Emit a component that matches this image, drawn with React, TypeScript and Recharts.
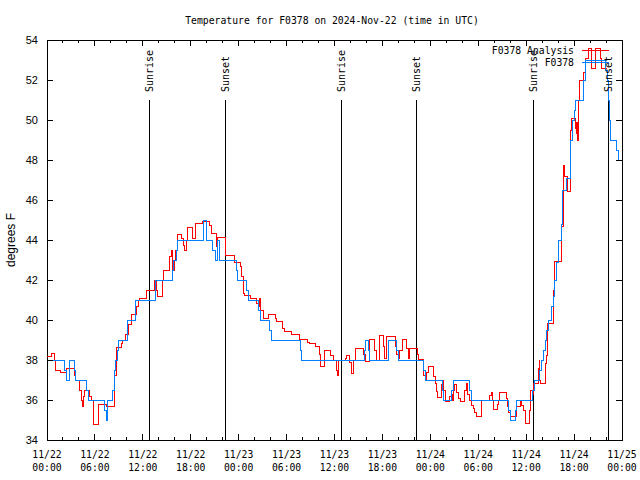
import React from 'react'
import { LineChart, Line, XAxis, YAxis, ReferenceLine, ReferenceDot, ReferenceArea } from 'recharts'

// hours since 2024-11-22 00:00 UTC
const analysisHours = [
  0, 0.58, 0.92, 1.08, 1.71, 2.46, 3.42, 3.63, 4.13, 4.34, 4.42, 4.55, 4.67, 5.38, 5.59, 5.8, 5.88, 6.5, 7.47,
  8.39, 8.51, 8.64, 8.72, 9.27, 9.47, 9.77, 10.2, 10.6, 11.23, 11.44, 11.56, 12.48, 13.44, 13.65, 13.86, 14.48,
  14.57, 15.4, 15.53, 15.73, 16.0, 16.13, 16.38, 16.88, 17.09, 17.22, 17.43, 17.64, 18.18, 18.6, 19.44, 20.35,
  20.56, 21.19, 21.4, 22.36, 23.54, 24.17, 24.38, 24.58, 24.79, 25.5, 26.26, 26.46, 26.59, 26.76, 27.09, 27.71,
  28.55, 28.76, 29.51, 29.72, 30.64, 31.6, 32.6, 32.85, 33.56, 34.1, 34.27, 34.69, 34.81, 35.52, 35.85, 36.27,
  36.35, 36.56, 37.32, 37.53, 37.94, 38.15, 38.44, 38.57, 39.61, 39.82, 40.36, 41.07, 41.28, 41.61, 42.11, 42.32,
  42.53, 43.58, 43.79, 44.0, 44.2, 44.54, 45.04, 45.24, 45.45, 46.37, 46.58, 47.12, 47.42, 47.54, 47.75, 48.38,
  48.59, 48.71, 48.88, 49.42, 49.54, 49.7, 49.84, 50.38, 50.6, 50.75, 50.9, 51.0, 51.3, 51.5, 51.72, 52.34, 52.47,
  52.7, 52.88, 53.1, 53.38, 53.55, 53.72, 54.35, 54.43, 55.47, 55.6, 55.75, 55.89, 55.97, 56.39, 56.5, 56.64,
  57.48, 57.6, 57.77, 57.98, 58.82, 59.23, 59.45, 59.65, 59.86, 60.4, 60.57, 60.82, 60.98, 61.52, 61.65, 61.73,
  61.82, 62.44, 62.57, 62.65, 63.4, 63.53, 64.45, 64.66, 64.86, 65.15, 65.49, 65.58, 65.7, 66.12, 66.24, 66.33,
  66.45, 66.53, 66.66, 67.16, 67.49, 67.78, 68.2, 68.62, 69.25, 69.46, 70.08,
]
const analysisTemps = [
  38.17, 38.33, 38.0, 37.5, 37.4, 37.58, 37.25, 36.97, 36.5, 36.0, 35.67, 36.17, 36.5, 36.2, 36.0, 35.1, 34.78, 35.78, 35.67,
  36.5, 37.25, 37.97, 38.63, 38.83, 39.0, 39.3, 39.8, 40.3, 40.7, 41.0, 41.1, 41.5, 42.0, 41.5, 41.2, 42.0,
  42.5, 43.2, 43.5, 42.5, 43.0, 43.5, 44.3, 44.1, 43.75, 43.5, 44.0, 44.63, 44.08, 44.83, 44.92, 44.75,
  44.33, 43.67, 44.13, 43.25, 42.87, 42.67, 42.17, 41.33, 41.25, 41.08, 40.85, 40.67, 41.1, 40.5, 40.08, 40.3,
  40.1, 39.92, 39.6, 39.42, 39.3, 39.03, 38.9, 38.83, 38.67, 38.3, 37.67, 38.25, 38.5, 38.25, 38.0, 37.5,
  37.25, 38.0, 38.08, 38.25, 37.9, 37.33, 38.0, 38.58, 38.3, 37.92, 39.03, 38.5, 37.97, 39.25, 38.7, 38.1,
  39.2, 38.7, 38.3, 38.08, 38.5, 39.03, 38.6, 38.07, 38.58, 38.3, 38.03, 37.25, 37.0, 37.4, 37.67, 37.2,
  36.83, 36.42, 36.13, 36.8, 37.0, 36.5, 35.92, 36.17, 36.3, 36.0, 36.5, 36.8, 36.4, 36.1, 35.92, 36.5, 36.83,
  36.3, 36.0, 35.75, 35.58, 35.4, 35.17, 35.7, 36.0, 36.25, 36.4, 36.0, 35.75, 35.53, 35.8, 36.0, 36.37,
  36.1, 35.7, 35.4, 35.17, 35.67, 36.0, 35.75, 35.5, 34.83, 35.5, 36.5, 36.3, 36.83, 37.6, 38.0, 37.0,
  36.83, 37.83, 38.25, 39.83, 41.5, 42.92, 44.67, 47.75, 47.2, 46.42, 48.5, 49.5, 50.08, 49.6, 49.33, 49.9,
  49.0, 51.0, 52.0, 52.4, 53.1, 53.6, 52.6, 53.6, 53.1, 52.6, 52.6,
]

const obsHours = [
  0, 2.2, 2.5, 2.8, 3.4, 3.6, 4.9, 5.2, 7.2, 7.4, 7.6, 8.2, 8.4, 8.6, 8.8, 9.0, 10.1, 11.1, 13.6, 15.7, 15.9,
  16.2, 16.4, 19.6, 20.0, 20.7, 21.1, 21.3, 21.6, 23.75, 23.9, 25.0, 25.2, 26.5, 26.7, 27.9, 28.1, 31.7, 31.9,
  39.8, 39.9, 40.3, 40.4, 42.7, 42.8, 43.8, 44.0, 47.2, 47.4, 49.5, 49.6, 50.7, 50.9, 52.9, 53.1, 57.8, 58.0,
  58.7, 58.8, 60.8, 61.0, 61.7, 61.9, 62.15, 62.4, 62.6, 62.78, 63.2, 63.4, 63.53, 63.74, 64.03, 64.45, 64.57,
  65.08, 65.49, 65.61, 65.78, 66.03, 66.2, 67.16, 67.37, 69.9, 70.2, 70.29, 70.4, 70.58, 71.3, 71.5, 72,
]
const obsTemps = [
  38, 37.5, 37, 38, 37.5, 37, 36.5, 36, 35.5, 35, 36, 36.5, 37.5, 38, 38.5, 39, 40, 41, 42, 42.5, 43,
  43.5, 44, 45, 44, 43.5, 43, 44, 43, 42.5, 42, 41.5, 41, 40.5, 40, 39.5, 39, 38.5, 38,
  38.5, 39, 38.5, 38, 38.5, 39, 38.5, 38, 37.5, 37, 36.5, 36, 36.5, 37, 36.5, 36, 35.5, 35,
  35.5, 36, 36.5, 37, 37.5, 38, 38.5, 39, 39.5, 40, 40.7, 41.2, 42, 42.9, 44, 44.8, 46.5,
  47.1, 48.2, 49, 50, 50.5, 51, 52, 53, 52.5, 52, 51, 50, 49, 48.5, 48, 48,
]

const sunHours = [12.81, 22.37, 36.9, 46.27, 60.9, 70.29]
const sunLabels = ['Sunrise', 'Sunset', 'Sunrise', 'Sunset', 'Sunrise', 'Sunset']

const yTicks = [34, 36, 38, 40, 42, 44, 46, 48, 50, 52, 54]
const xMinorTicks = [0, 2, 4, 6, 8, 10, 12, 14, 16, 18, 20, 22, 24, 26, 28, 30, 32, 34, 36, 38, 40, 42, 44, 46, 48, 50, 52, 54, 56, 58, 60, 62, 64, 66, 68, 70, 72]
const xMajorTicks = [0, 6, 12, 18, 24, 30, 36, 42, 48, 54, 60, 66, 72]
const xTickDates = ['11/22', '11/22', '11/22', '11/22', '11/23', '11/23', '11/23', '11/23', '11/24', '11/24', '11/24', '11/24', '11/25']
const xTickTimes = ['00:00', '06:00', '12:00', '18:00', '00:00', '06:00', '12:00', '18:00', '00:00', '06:00', '12:00', '18:00', '00:00']

const analysisData = analysisHours.map((h, i) => ({ h, temp: analysisTemps[i] }))
const obsData = obsHours.map((h, i) => ({ h, temp: obsTemps[i] }))

const LEFT = 47
const RIGHT = 622
const TOP = 40
const BOTTOM = 440
const MONO = 'DejaVu Sans Mono'

function YTick(props: any) {
  const { y, payload } = props
  return (
    <g>
      <line x1={LEFT} x2={LEFT + 6} y1={y} y2={y} stroke="#000" shapeRendering="crispEdges" />
      <line x1={RIGHT - 6} x2={RIGHT} y1={y} y2={y} stroke="#000" shapeRendering="crispEdges" />
      <text x={38} y={y} textAnchor="end" dominantBaseline="central" fontFamily="Liberation Sans" fontSize={11} fill="#000">
        {payload.value}
      </text>
    </g>
  )
}

function XTick(props: any) {
  const { x, payload } = props
  const idx = xMajorTicks.indexOf(payload.value)
  const len = idx >= 0 ? 6 : 3
  return (
    <g>
      <line x1={x} x2={x} y1={BOTTOM} y2={BOTTOM - len} stroke="#000" shapeRendering="crispEdges" />
      <line x1={x} x2={x} y1={TOP} y2={TOP + len} stroke="#000" shapeRendering="crispEdges" />
      {idx >= 0 && (
        <text x={x} textAnchor="middle" fontFamily={MONO} fontSize={9.75} fill="#000">
          <tspan x={x} y={458}>{xTickDates[idx]}</tspan>
          <tspan x={x} y={471}>{xTickTimes[idx]}</tspan>
        </text>
      )}
    </g>
  )
}

function SunLabel(label: string) {
  return (props: any) => {
    const { cx, cy } = props
    const ty = cy - 8
    return (
      <text
        x={cx}
        y={ty}
        transform={`rotate(-90 ${cx} ${ty})`}
        textAnchor="start"
        dominantBaseline="central"
        fontFamily={MONO}
        fontSize={10}
        fill="#000"
      >
        {label}
      </text>
    )
  }
}

export default function App() {
  return (
    <div style={{ position: 'absolute', left: 0, top: 0, width: 640, height: 480, background: '#fff' }}>
      <LineChart width={640} height={480} margin={{ top: 40, right: 18, bottom: 0, left: 0 }}>
        <XAxis
          type="number"
          dataKey="h"
          domain={[0, 72]}
          ticks={xMinorTicks}
          interval={0}
          tick={<XTick />}
          tickLine={false}
          axisLine={false}
          height={40}
        />
        <YAxis
          type="number"
          domain={[34, 54]}
          ticks={yTicks}
          interval={0}
          tick={<YTick />}
          tickLine={false}
          axisLine={false}
          width={47}
        />
        <ReferenceArea x1={0} x2={72} y1={34} y2={54} fill="none" fillOpacity={0} stroke="#000" strokeWidth={1} shapeRendering="crispEdges" />
        {sunHours.map((h, i) => (
          <ReferenceLine
            key={'l' + i}
            segment={[{ x: h, y: 34 }, { x: h, y: 51 }]}
            stroke="#000"
            strokeWidth={1}
            shapeRendering="crispEdges"
          />
        ))}
        {sunHours.map((h, i) => (
          <ReferenceDot key={'d' + i} x={h} y={51} r={0} shape={SunLabel(sunLabels[i])} />
        ))}
        <Line
          data={analysisData}
          dataKey="temp"
          type="stepAfter"
          stroke="#ff0000"
          strokeWidth={1}
          dot={false}
          activeDot={false}
          isAnimationActive={false}
          shapeRendering="crispEdges"
        />
        <Line
          data={obsData}
          dataKey="temp"
          type="stepAfter"
          stroke="#0080ff"
          strokeWidth={1}
          dot={false}
          activeDot={false}
          isAnimationActive={false}
          shapeRendering="crispEdges"
        />
      </LineChart>
      <svg width={640} height={480} style={{ position: 'absolute', left: 0, top: 0, pointerEvents: 'none' }}>
        <text x={332} y={20} textAnchor="middle" dominantBaseline="central" fontFamily={MONO} fontSize={9.75} fill="#000">
          Temperature for F0378 on 2024-Nov-22 (time in UTC)
        </text>
        <text x={11} y={240} transform="rotate(-90 11 240)" textAnchor="middle" dominantBaseline="central" fontFamily="Liberation Sans" fontSize={12} fill="#000">
          degrees F
        </text>
        <text x={574} y={50} textAnchor="end" dominantBaseline="central" fontFamily={MONO} fontSize={9.75} fill="#000">
          F0378 Analysis
        </text>
        <line x1={582} x2={609} y1={50} y2={50} stroke="#ff0000" shapeRendering="crispEdges" />
        <text x={574} y={62} textAnchor="end" dominantBaseline="central" fontFamily={MONO} fontSize={9.75} fill="#000">
          F0378
        </text>
        <line x1={582} x2={609} y1={62} y2={62} stroke="#0080ff" shapeRendering="crispEdges" />
      </svg>
    </div>
  )
}
